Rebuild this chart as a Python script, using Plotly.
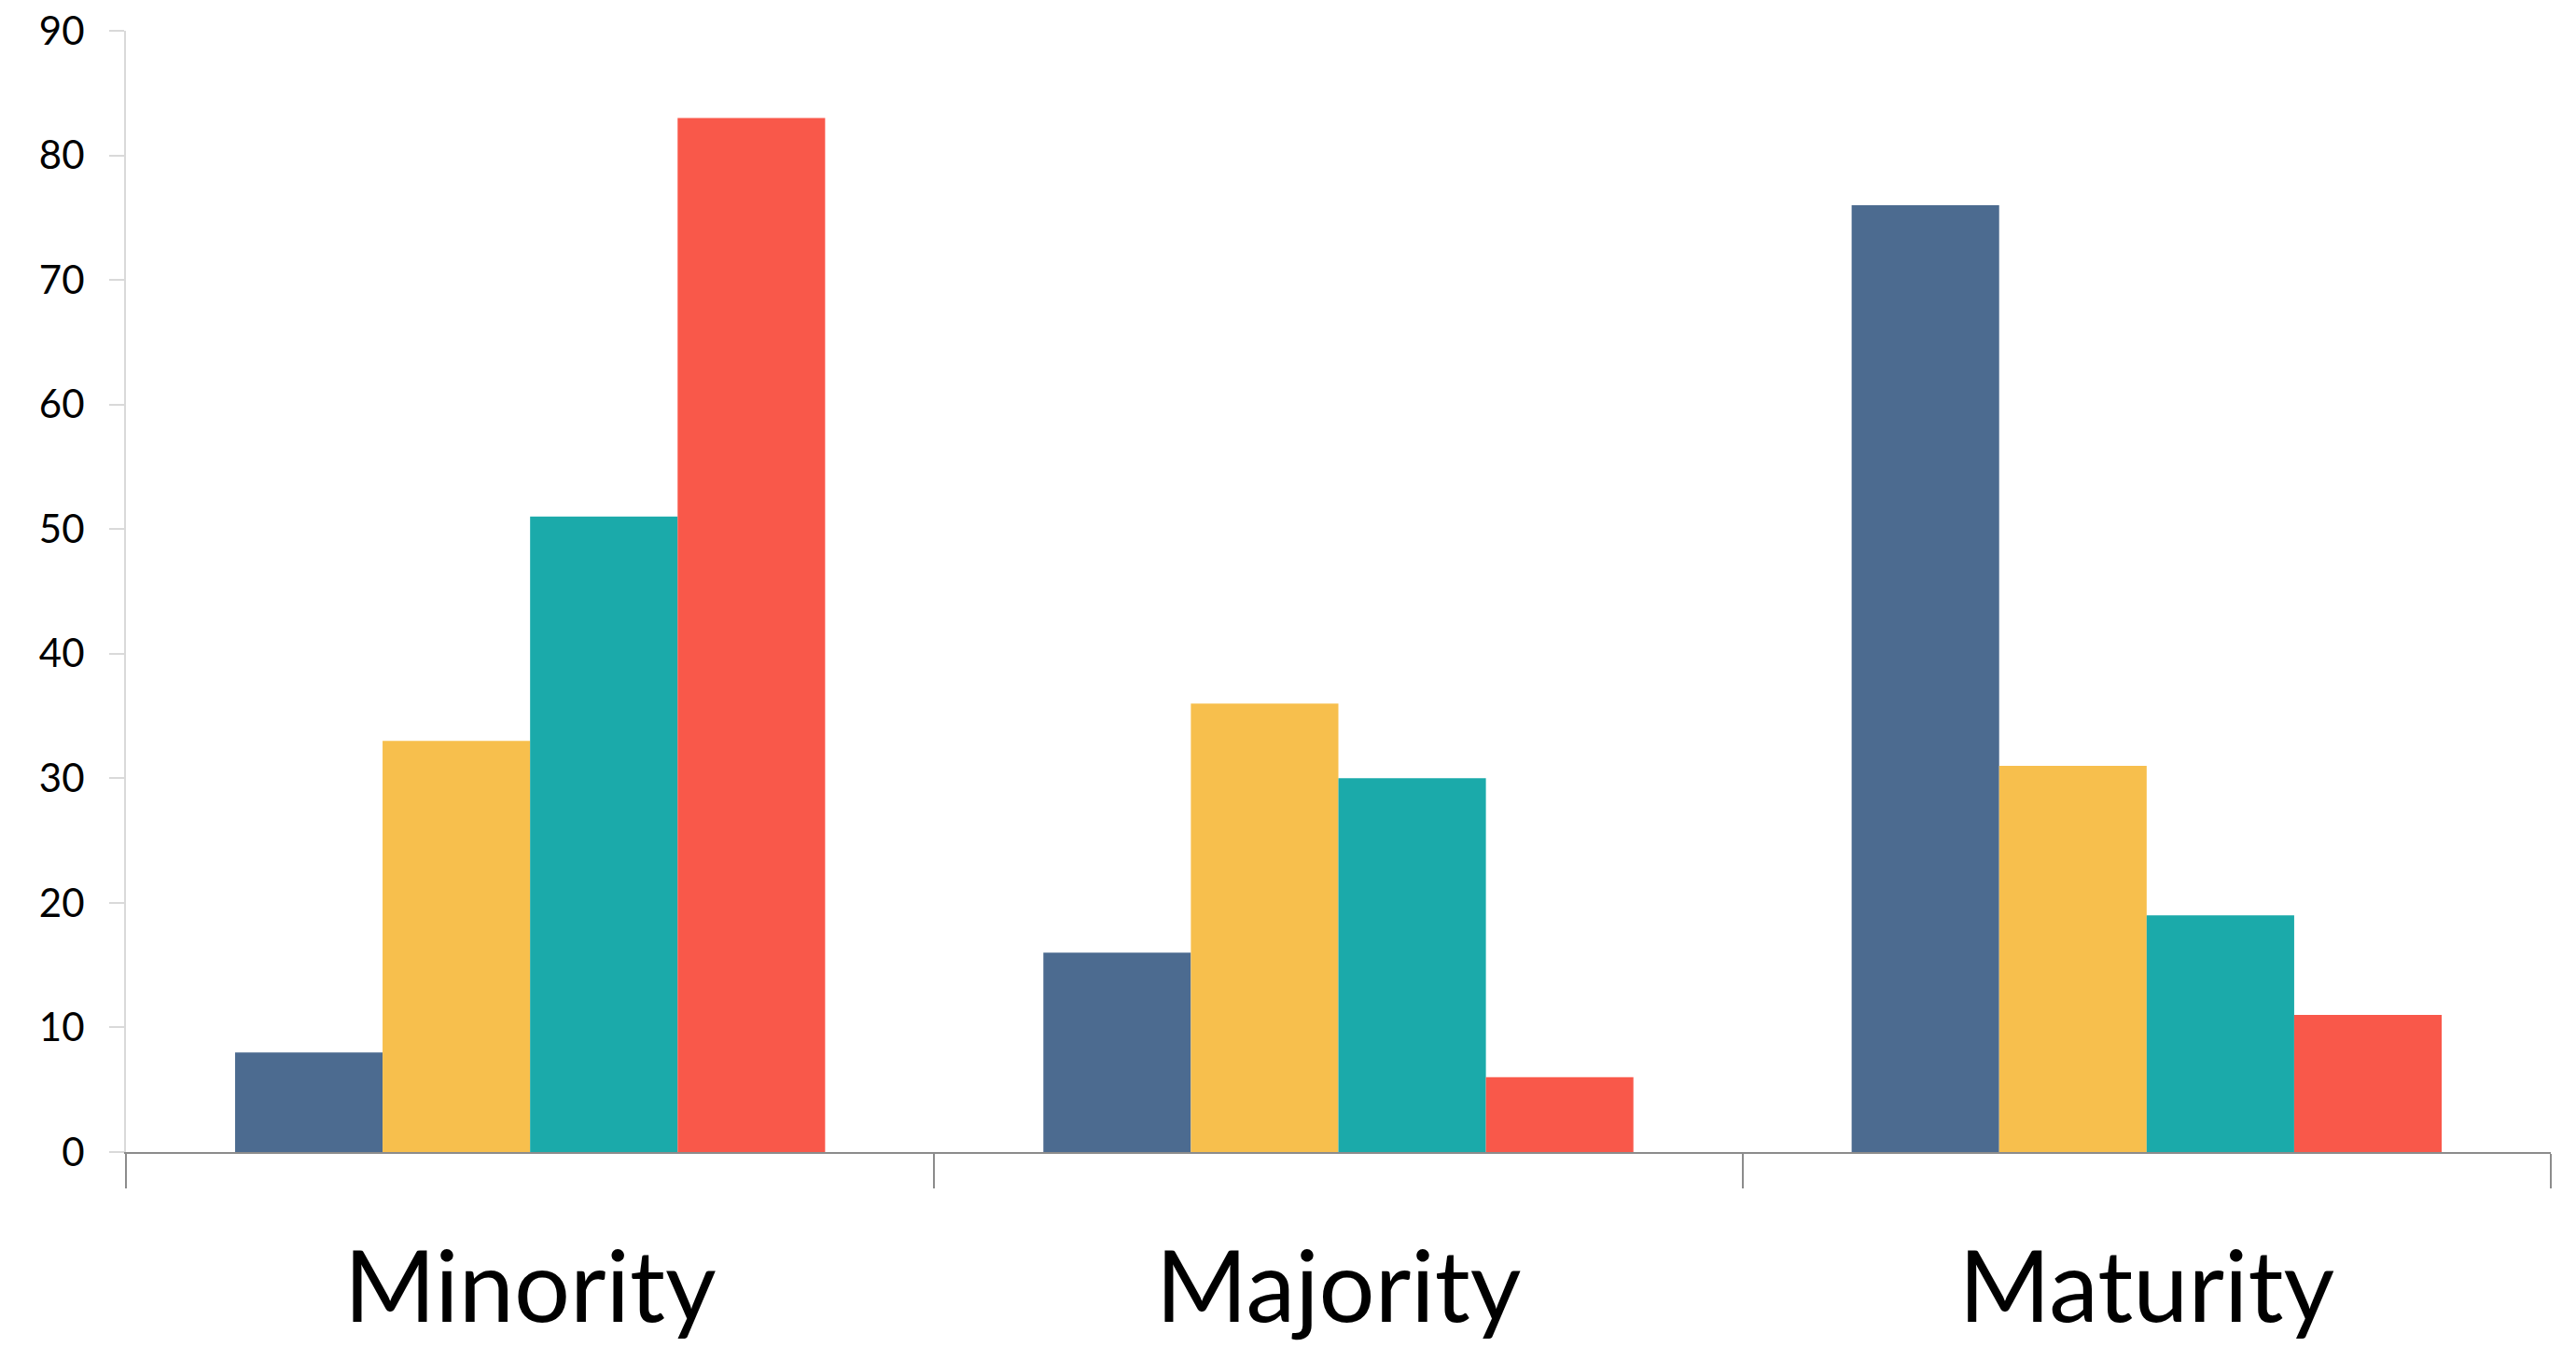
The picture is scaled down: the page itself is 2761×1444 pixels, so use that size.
import plotly.graph_objects as go

categories = ["Minority", "Majority", "Maturity"]
series_names = ["Series 1", "Series 2", "Series 3", "Series 4"]
series_values = [
    [8, 16, 76],
    [33, 36, 31],
    [51, 30, 19],
    [83, 6, 11],
]
series_colors = ["#4C6B90", "#F7BF4D", "#1BAAAA", "#F9584A"]
y_ticks = [0, 10, 20, 30, 40, 50, 60, 70, 80, 90]

fig = go.Figure()
for name, vals, col in zip(series_names, series_values, series_colors):
    fig.add_trace(go.Bar(x=categories, y=vals, name=name, marker=dict(color=col, line=dict(width=0))))

fig.update_layout(
    width=2761, height=1444,
    margin=dict(l=135, r=27, t=33, b=209),
    paper_bgcolor="white", plot_bgcolor="white",
    barmode="group", bargap=0.27, bargroupgap=0,
    showlegend=False,
    font=dict(family="Lato", color="black"),
)
fig.update_xaxes(
    type="category", range=[-0.5, 2.5], automargin=False,
    showline=True, linecolor="#8C8C8C", linewidth=2,
    ticks="outside", ticklen=37, tickwidth=2, tickcolor="#8C8C8C",
    tickson="boundaries",
    tickfont=dict(family="Lato", size=106, color="black"),
    ticklabelstandoff=53,
    showgrid=False, zeroline=False,
)
fig.update_yaxes(
    range=[0, 90], tickvals=y_ticks, automargin=False,
    showline=True, linecolor="#D9D9D9", linewidth=2,
    ticks="outside", ticklen=16, tickwidth=2, tickcolor="#D9D9D9",
    tickfont=dict(family="Lato", size=42, color="black"),
    ticklabelstandoff=18,
    showgrid=False, zeroline=False,
)
fig.write_html("out.html")
